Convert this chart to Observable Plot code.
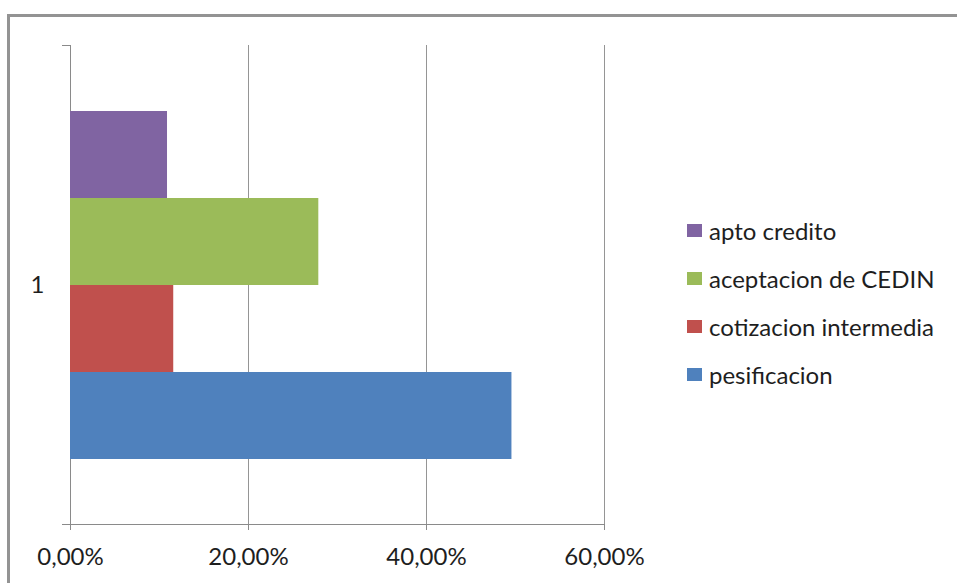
<!DOCTYPE html>
<html>
<head>
<meta charset="utf-8">
<script src="https://cdn.jsdelivr.net/npm/d3@7"></script>
<script src="https://cdn.jsdelivr.net/npm/@observablehq/plot@0.6"></script>
<style>
  html, body { margin: 0; padding: 0; background: #fff; }
  #wrap { position: relative; width: 957px; height: 583px; overflow: hidden; background: #fff; }
  #frame { position: absolute; left: 7px; top: 14px; width: 1000px; height: 700px;
           border-top: 3px solid #939393; border-left: 3px solid #939393; box-sizing: border-box; }
  #chart { position: absolute; left: 0; top: 0; }
  #legend { position: absolute; left: 687px; top: 0; font-family: Lato, "Open Sans", sans-serif;
            font-size: 24px; color: #1e1e1e; }
  .item { position: absolute; left: 0; display: flex; align-items: center; white-space: nowrap; height: 30px; }
  .sw { width: 15px; height: 13px; margin-right: 7px; flex: none; }
</style>
</head>
<body>
<div id="wrap">
  <div id="frame"></div>
  <div id="chart"></div>
  <div id="legend"></div>
</div>
<script>
const categories = ["1"];
const series = ["apto credito", "aceptacion de CEDIN", "cotizacion intermedia", "pesificacion"];
const values = [10.9, 27.9, 11.6, 49.6];
const colors = ["#8064A2", "#9BBB59", "#C0504D", "#4F81BD"];
const xTicks = [0, 20, 40, 60];

const rows = series.map((s, i) => ({category: categories[0], series: s, value: values[i]}));
const axisGray = "#8a8a8a";
const pct = d => d.toFixed(2).replace(".", ",") + "%";

const chart = Plot.plot({
  width: 957,
  height: 583,
  marginLeft: 70,
  marginRight: 353,
  marginTop: 45,
  marginBottom: 59,
  style: {fontFamily: "Lato, 'Open Sans', sans-serif", fontSize: "24px", color: "#1e1e1e", background: "transparent"},
  x: {domain: [xTicks[0], xTicks[xTicks.length - 1]], axis: null},
  y: {domain: series, paddingInner: 0, paddingOuter: 0.737, axis: null},
  fy: {domain: categories, padding: 0, axis: "left", label: null, tickSize: 0, tickPadding: 26},
  color: {domain: series, range: colors},
  marks: [
    Plot.gridX({ticks: xTicks.slice(1), stroke: "#959595", strokeOpacity: 1}),
    Plot.ruleX([xTicks[0]], {stroke: axisGray}),
    Plot.barX(rows, {x: "value", y: "series", fy: "category", fill: "series"}),
    Plot.axisX({ticks: xTicks, tickFormat: pct, tickSize: 6, tickPadding: 17, stroke: axisGray, fill: "#1e1e1e", label: null}),
    // category boundary ticks and the baseline of the value axis
    (index, {x}, values, {height, marginTop, marginBottom}) => {
      const g = d3.create("svg:g").attr("stroke", axisGray).attr("stroke-width", 1);
      const x0 = x(xTicks[0]);
      const x1 = x(xTicks[xTicks.length - 1]);
      const top = marginTop + 0.5, bottom = height - marginBottom + 0.5;
      g.append("line").attr("x1", x0 - 8).attr("x2", x0).attr("y1", top).attr("y2", top);
      g.append("line").attr("x1", x0 - 8).attr("x2", x1).attr("y1", bottom).attr("y2", bottom);
      return g.node();
    }
  ]
});
document.getElementById("chart").appendChild(chart);

// legend, top item first, built from the colour scale
const colorScale = chart.scale("color");
const legend = document.getElementById("legend");
series.forEach((s, i) => {
  const item = document.createElement("div");
  item.className = "item";
  item.style.top = (215 + i * 48) + "px";
  const sw = document.createElement("span");
  sw.className = "sw";
  sw.style.background = colorScale.range[colorScale.domain.indexOf(s)];
  const label = document.createElement("span");
  label.textContent = s;
  item.appendChild(sw);
  item.appendChild(label);
  legend.appendChild(item);
});
</script>
</body>
</html>
